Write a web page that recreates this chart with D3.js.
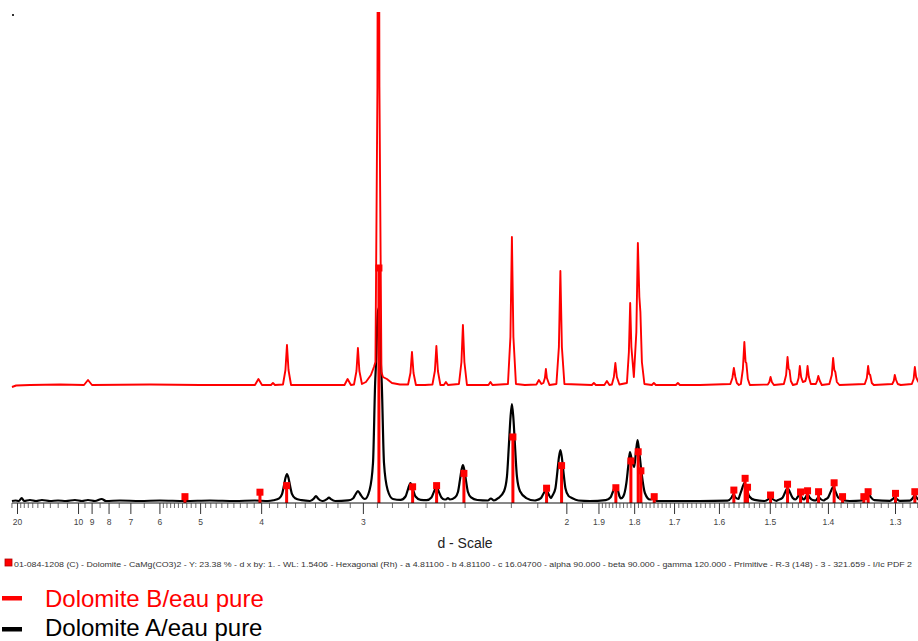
<!DOCTYPE html>
<html><head><meta charset="utf-8">
<script src="https://cdn.jsdelivr.net/npm/d3@7"></script>
<style>
body{margin:0;background:#fff}
svg{display:block}
text{font-family:"Liberation Sans",Arial,sans-serif}
</style>
</head><body>
<svg id="chart" width="918" height="641"></svg>
<script>
// ---------- data ----------
const majorTicks = [20,10,9,8,7,6,5,4,3,2,1.9,1.8,1.7,1.6,1.5,1.4,1.3];
const majorTickLabels = ["20","10","9","8","7","6","5","4","3","2","1.9","1.8","1.7","1.6","1.5","1.4","1.3"];
const minorTicksCoarse = [22,19,18,17,16,15,14,13,12,11,9.5,8.5,7.5,6.5,
  5.9,5.8,5.7,5.6,5.5,5.4,5.3,5.2,5.1,4.9,4.8,4.7,4.6,4.5,4.4,4.3,4.2,4.1,
  3.9,3.8,3.7,3.6,3.5,3.4,3.3,3.2,3.1,2.9,2.8,2.7,2.6,2.5,2.4,2.3,2.2,2.1,1.95];

// Dolomite B / eau pure (red) : [d (Å), counts above own baseline]
const patternB = [[21.8,0],[20.3,1.5],[16.49,2],[11.73,2.5],
[9.536,2],[9.246,7],[8.974,2],[6.292,2.5],[5.0,2],
[4.083,2],[4.036,8],[3.989,2],[3.875,2],[3.851,4],[3.827,2],
[3.733,2.5],[3.705,17],[3.688,42],[3.671,17],[3.643,2],[3.354,2],
[3.142,2],[3.117,8],[3.091,2],
[3.067,2.5],[3.048,16],[3.037,39],[3.026,16],[3.007,3],
[2.9777,5],[2.9418,12],[2.9207,20],[2.9101,25],[2.8964,300],[2.8896,800],[2.8828,300],[2.8691,15],[2.8591,10],[2.8326,8],[2.8001,4],[2.7497,2.5],
[2.700,2.5],[2.686,14],[2.677,35],[2.668,14],[2.654,2],[2.603,2],
[2.562,2.5],[2.549,16],[2.541,41],[2.533,16],[2.52,2],
[2.5018,2],[2.4916,5],[2.4814,2],
[2.427,3],[2.415,25],[2.408,62],[2.401,25],[2.389,2],
[2.2925,2],[2.284,5],[2.2755,2],
[2.2116,3],[2.2017,50],[2.1958,150],[2.1899,50],[2.18,3],[2.1457,2],
[2.1032,2.5],[2.0942,7],[2.0852,3],
[2.0781,4],[2.0728,9],[2.0693,18],[2.0658,9],[2.057,2],
[2.0331,3],[2.0247,40],[2.0197,116],[2.0147,40],[2.0063,3],
[1.9197,2],[1.9137,4],[1.9077,2],[1.8826,2],[1.8754,6],[1.8682,2],
[1.8611,2.5],[1.8555,10],[1.8513,24],[1.8471,10],[1.84,2.5],
[1.8194,4],[1.8141,35],[1.8106,84],[1.8074,40],[1.8008,10],[1.7942,55],[1.7902,144],[1.7863,90],[1.7836,75],[1.7797,25],[1.7732,3],
[1.7542,2],[1.7492,4],[1.7442,2],[1.6957,2],[1.691,4],[1.6863,2],[1.641,2],
[1.5764,3],[1.5723,9],[1.5693,19],[1.5663,10],[1.5632,4],[1.5592,2],
[1.5553,3],[1.5513,18],[1.5484,45],[1.546,25],[1.5445,24],[1.5416,8],[1.5377,2],
[1.5036,2.5],[1.5008,5],[1.4986,10],[1.4962,5],[1.4925,2],
[1.4745,3],[1.4705,12],[1.468,30],[1.466,18],[1.4645,17],[1.4622,6],[1.4586,2],
[1.4517,3],[1.4487,9],[1.4466,21],[1.4444,10],[1.4415,5],
[1.4372,6],[1.4353,10],[1.4335,21],[1.4313,10],[1.428,3],
[1.4197,3],[1.4176,6],[1.4156,11],[1.4131,6],[1.4099,2],
[1.3977,3],[1.3938,12],[1.3917,29],[1.3898,17],[1.3882,15],[1.3858,5],[1.3818,2],
[1.3432,3],[1.3402,9],[1.3383,21],[1.3368,13],[1.3353,12],[1.3329,4],[1.33,2],
[1.3038,3],[1.3017,6],[1.3003,12],[1.2985,7],[1.2962,3],[1.2921,2],
[1.2771,3],[1.2747,8],[1.2731,20],[1.2714,10],[1.2691,6],[1.2665,3]];

// Dolomite A / eau pure (black) : [d (Å), counts]
const patternA = [[21.8,2],[20.5,2.5],[19.4,2],[18.57,5],[17.94,2],[16.49,3],[15.25,2],[14.19,3],[12.98,2],[11.96,2.5],[11.1,2],[10.26,3],[9.687,2],[9.246,3],[8.781,2],[8.377,4],[8.137,2],[7.443,2.5],[6.634,2],[5.984,2.5],[5.331,2],[4.806,2.5],[4.376,2],[4.083,2.5],[3.913,2],
[3.844,2.8],[3.777,4.7],[3.744,8.8],[3.721,17.7],[3.705,25],[3.688,29],[3.671,25],[3.655,17.7],[3.632,8.8],[3.599,4.7],[3.532,2.8],
[3.448,2],[3.41,4.5],[3.391,7],[3.372,4.5],[3.334,2],
[3.326,2],[3.291,3.8],[3.273,5.5],[3.255,3.8],[3.22,2],
[3.1125,2.6],[3.0748,4.5],[3.0559,8.5],[3.037,12],[3.0181,8.5],[2.9993,5],
[2.9854,4],[2.9512,13],[2.9272,40],[2.9122,120],[2.9033,150],[2.8964,185],[2.8896,195],[2.8828,185],[2.8759,150],[2.867,120],[2.852,40],[2.828,13],[2.7938,4],
[2.7451,3.1],[2.7156,6.5],[2.7008,13.7],[2.686,20],[2.6712,13.7],[2.6565,6.5],[2.6269,3.1],
[2.5939,2.8],[2.5675,5.5],[2.5542,11.1],[2.541,16],[2.5278,11.1],[2.5146,5.5],[2.4987,3.5],
[2.4916,3.5],[2.4815,5],[2.4714,3.5],
[2.446,5.6],[2.4318,11],[2.4223,22.9],[2.4151,32.6],[2.408,38],[2.4009,32.6],[2.3938,22.9],[2.3843,11],[2.37,5.6],[2.3415,3],
[2.2948,2.5],[2.282,4.5],[2.2692,2.5],
[2.2511,4.9],[2.2274,11.7],[2.2156,26.3],[2.2077,58.3],[2.2017,84.5],[2.1958,99],[2.1899,84.5],[2.1839,58.3],[2.1761,26.3],[2.1642,11.7],[2.1405,4.9],[2.1089,2.5],
[2.1044,2.7],[2.0869,4.8],[2.0781,9.2],[2.0693,13],[2.0605,9.2],[2.0518,4.8],
[2.0464,7.5],[2.0364,14.8],[2.0297,31.6],[2.0247,45.4],[2.0197,53],[2.0147,45.4],[2.0097,31.6],[2.003,14.8],[1.993,7.1],[1.982,5],[1.9613,2.5],[1.9257,2],
[1.8787,2.9],[1.8647,5.8],[1.8577,11.8],[1.8507,17],[1.8437,11.8],[1.8395,6.5],
[1.8359,4.5],[1.8296,6.3],[1.8209,20],[1.8155,38],[1.8114,51],[1.8061,43],[1.7999,36],[1.7955,50],[1.791,63],[1.7863,50],[1.7805,30],[1.772,10],[1.7592,3.5],
[1.7492,4],[1.7417,2],[1.641,2],
[1.582,2.3],[1.5739,5.5],[1.5699,9],[1.5659,5.5],[1.5598,4],
[1.5582,6.5],[1.5533,13.7],[1.5484,20],[1.5435,13.7],[1.5386,6.5],[1.5288,3.1],
[1.5096,2],[1.5023,4],[1.4986,6],[1.4949,4],[1.4876,2.2],
[1.4857,2.8],[1.4769,5.3],[1.4724,10.5],[1.468,15],[1.4636,10.5],[1.4592,5.3],[1.4538,3.5],
[1.4509,5.5],[1.4466,9],[1.4432,5.5],
[1.4397,3.5],[1.4369,5.5],[1.4335,9],[1.4301,5.5],[1.4251,3],
[1.4201,2.5],[1.4177,4],[1.4152,6],[1.4119,4],[1.407,2.5],
[1.4044,3.5],[1.3997,5.5],[1.3957,11.1],[1.3917,16],[1.3877,11.1],[1.3838,5.5],[1.3758,2.8],[1.3657,2],
[1.3471,2.5],[1.342,6],[1.3383,10],[1.3346,6],[1.3295,2.8],
[1.3072,2.2],[1.303,4],[1.3003,6],[1.2975,4],[1.2934,2.2],
[1.2798,2.3],[1.2758,5],[1.2731,8],[1.2704,5],[1.2665,2.5]];

// PDF 01-084-1208 Dolomite reference lines: d (Å) and relative intensity (%)
const refD = [5.3308,4.0157,3.6917,2.8862,2.6732,2.5398,2.4033,2.1919,2.0669,2.0157,1.8499,1.8087,1.7894,1.7823,1.7483,
  1.5693,1.5469,1.5422,1.4986,1.468,1.4454,1.4335,1.4152,1.3901,1.3769,1.3446,1.3383,1.2993,1.2731];
const refI = [2.7,4.6,7.4,100,6.9,7.4,12.6,28.1,6.3,15.9,6.5,17.9,21.8,13.7,2.7,
  5.5,10.5,6.7,3.4,8.0,4.7,5.2,4.8,8.6,2.7,2.7,4.8,4.1,4.8];

const seriesNames = ["Dolomite B/eau pure","Dolomite A/eau pure"];
const seriesColors = ["#ff0000","#000000"];
const xTitle = "d - Scale";
const refCaption = "01-084-1208 (C) - Dolomite - CaMg(CO3)2 - Y: 23.38 % - d x by: 1. - WL: 1.5406 - Hexagonal (Rh) - a 4.81100 - b 4.81100 - c 16.04700 - alpha 90.000 - beta 90.000 - gamma 120.000 - Primitive - R-3 (148) - 3 - 321.659 - I/Ic PDF 2";

// ---------- chart ----------
const svg = d3.select("#chart");
const x = d3.scaleLinear().domain([1/20, 1/1.3]).range([17, 895]); // linear in 1/d
const xd = d => x(1/d);
const y = d3.scaleLinear().domain([0, 491]).range([503, 12]);
const yRef = d3.scaleLinear().domain([0, 100]).range([503, 268]);
const offsetB = 116;

svg.append("defs").append("clipPath").attr("id","plot")
  .append("rect").attr("x",11).attr("y",12).attr("width",907).attr("height",491);

svg.append("rect").attr("x",12).attr("y",14).attr("width",2).attr("height",2).attr("fill","#333");

const plot = svg.append("g").attr("clip-path","url(#plot)");

const lineA = d3.line().x(p=>xd(p[0])).y(p=>y(p[1])).curve(d3.curveMonotoneX);
const lineB = d3.line().x(p=>xd(p[0])).y(p=>y(p[1]+offsetB)).curve(d3.curveLinear);

plot.append("path").datum(patternA).attr("d",lineA)
  .attr("fill","none").attr("stroke",seriesColors[1]).attr("stroke-width",2.2).attr("stroke-linejoin","round");
plot.append("path").datum(patternB).attr("d",lineB)
  .attr("fill","none").attr("stroke",seriesColors[0]).attr("stroke-width",1.9).attr("stroke-linejoin","round");

const refs = refD.map((d,i)=>({d, I: refI[i]}));
plot.selectAll("line.ref").data(refs).join("line").attr("class","ref")
  .attr("x1",r=>xd(r.d)).attr("x2",r=>xd(r.d))
  .attr("y1",y(0)).attr("y2",r=>yRef(r.I))
  .attr("stroke","#ff0000").attr("stroke-width",3);
plot.selectAll("rect.ref").data(refs).join("rect").attr("class","ref")
  .attr("x",r=>xd(r.d)-3.5).attr("y",r=>yRef(r.I)-3.5)
  .attr("width",7).attr("height",7).attr("fill","#ff0000");

// axis
const axisG = svg.append("g").attr("transform","translate(0,503)");
axisG.append("line").attr("x1",xd(21.8)).attr("x2",918).attr("y1",0).attr("y2",0)
  .attr("stroke","#111").attr("stroke-width",1);

const fineTicks = d3.range(189,126,-1).map(v=>v/100).filter(v=>!majorTicks.includes(v));
const minorAll = minorTicksCoarse.concat(fineTicks);

const minorAxis = d3.axisBottom(x).tickValues(minorAll.map(d=>1/d)).tickSize(5).tickSizeOuter(0).tickFormat("");
const gMin = svg.append("g").attr("transform","translate(0,503)").call(minorAxis);
gMin.select(".domain").remove();
gMin.selectAll(".tick line").attr("stroke","#444").attr("stroke-width",0.8);

const majorAxis = d3.axisBottom(x).tickValues(majorTicks.map(d=>1/d)).tickSize(11).tickSizeOuter(0)
  .tickFormat((s,i)=>majorTickLabels[i]);
const gMaj = svg.append("g").attr("transform","translate(0,503)").call(majorAxis);
gMaj.select(".domain").remove();
gMaj.selectAll(".tick line").attr("stroke","#333").attr("stroke-width",1);
gMaj.selectAll(".tick text").attr("y",16).attr("font-size",8.5).attr("fill","#444")
  .attr("font-family","'Liberation Sans',Arial,sans-serif");

svg.append("text").attr("x",465).attr("y",548).attr("text-anchor","middle")
  .attr("font-size",14).attr("fill","#222").text(xTitle);

// reference caption
svg.append("rect").attr("x",5).attr("y",559).attr("width",7).attr("height",7)
  .attr("fill","#ff0000").attr("stroke","#b00000").attr("stroke-width",0.8);
svg.append("text").attr("x",14).attr("y",566.5).attr("font-size",8).attr("fill","#333")
  .attr("textLength",898).attr("lengthAdjust","spacingAndGlyphs").text(refCaption);

// legend
const leg = svg.append("g");
seriesNames.forEach((n,i)=>{
  leg.append("rect").attr("x",2).attr("y",596+i*31).attr("width",20).attr("height",4.5).attr("fill",seriesColors[i]);
  leg.append("text").attr("x",45).attr("y",607+i*29).attr("font-size",24).attr("fill",seriesColors[i]).text(n);
});
</script>
</body></html>
